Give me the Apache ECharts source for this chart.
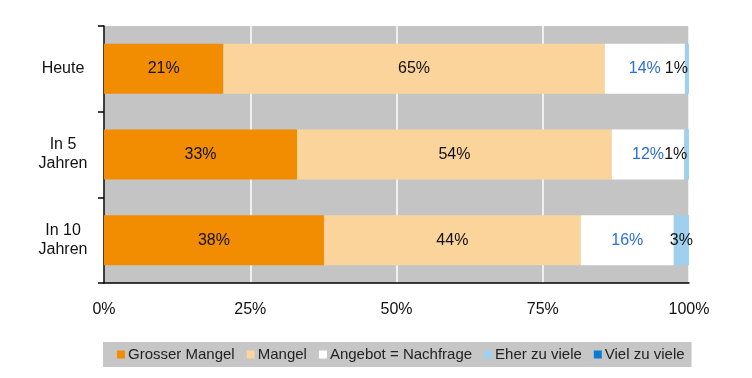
<!DOCTYPE html>
<html>
<head>
<meta charset="utf-8">
<script src="https://cdn.jsdelivr.net/npm/echarts@6/dist/echarts.min.js"></script>
<style>
  html, body { margin: 0; padding: 0; background: #fff; }
  #chart { width: 752px; height: 378px; }
</style>
</head>
<body>
<div id="chart"></div>
<script>
// Kategorien und Reihen
const categories = ['Heute', 'In 5\nJahren', 'In 10\nJahren']
const seriesNames = ['Grosser Mangel', 'Mangel', 'Angebot = Nachfrage', 'Eher zu viele', 'Viel zu viele']

// Anteile
const grosserMangel = [20.4, 33.0, 37.6]
const mangel = [65.2, 53.8, 43.9]
const angebot = [13.7, 12.4, 15.9]
const eherZuViele = [0.7, 0.8, 2.6]
const vielZuViele = [0, 0, 0]

// Beschriftungen wie im Bild
const grosserMangelLabels = ['21%', '33%', '38%']
const mangelLabels = ['65%', '54%', '44%']
const angebotLabels = ['14%', '12%', '16%']
const eherZuVieleLabels = ['1%', '1%', '3%']

const xTicks = [0, 25, 50, 75, 100]

const colors = ['#f28c00', '#fbd49c', '#ffffff', '#9fd0ee', '#0a7dd0']
const font = 'Liberation Sans, Arial, sans-serif'

function withLabels(values, labels, extra) {
  return values.map((v, i) => {
    const item = { value: v }
    if (labels) item.labelText = labels[i]
    if (extra && extra[i]) item.label = extra[i]
    return item
  })
}

const baseLabel = {
  show: true,
  fontFamily: font,
  fontSize: 16,
  color: '#111',
  formatter: (p) => p.data.labelText || ''
}

const chart = echarts.init(document.getElementById('chart'))

const option = {
  animation: false,
  color: colors,
  grid: {
    left: 104,
    right: 63,
    top: 26,
    bottom: 95,
    show: true,
    backgroundColor: '#c4c4c4',
    borderWidth: 0
  },
  legend: {
    left: 103,
    top: 342,
    width: 640,
    itemWidth: 8,
    itemHeight: 8,
    itemGap: 12,
    padding: [5, 7, 5, 14],
    backgroundColor: '#c6c6c6',
    icon: 'rect',
    textStyle: { fontFamily: font, fontSize: 15, color: '#222', padding: [0, 0, 0, -2] },
    data: seriesNames
  },
  xAxis: {
    type: 'value',
    min: 0,
    max: 100,
    interval: 25,
    axisLine: { show: true, lineStyle: { color: '#000', width: 1.5 } },
    axisTick: { show: false },
    splitLine: { show: true, lineStyle: { color: '#ffffff', width: 1.5 } },
    axisLabel: {
      margin: 19,
      fontFamily: font,
      fontSize: 16,
      color: '#111',
      formatter: (v) => (xTicks.includes(v) ? v + '%' : '')
    }
  },
  yAxis: {
    type: 'category',
    inverse: true,
    data: categories,
    axisLine: { show: true, lineStyle: { color: '#000', width: 1.5 } },
    axisTick: { show: true, length: 6, lineStyle: { color: '#000', width: 1.5 } },
    splitLine: { show: false },
    axisLabel: {
      margin: 41,
      align: 'center',
      fontFamily: font,
      fontSize: 16,
      lineHeight: 19,
      color: '#111'
    }
  },
  series: [
    {
      name: seriesNames[0],
      type: 'bar',
      stack: 'total',
      barWidth: 50,
      label: Object.assign({}, baseLabel, { position: 'inside' }),
      data: withLabels(grosserMangel, grosserMangelLabels)
    },
    {
      name: seriesNames[1],
      type: 'bar',
      stack: 'total',
      barWidth: 50,
      label: Object.assign({}, baseLabel, { position: 'inside' }),
      data: withLabels(mangel, mangelLabels)
    },
    {
      name: seriesNames[2],
      type: 'bar',
      stack: 'total',
      barWidth: 50,
      label: Object.assign({}, baseLabel, { position: 'inside', color: '#2a6fd6' }),
      data: withLabels(angebot, angebotLabels)
    },
    {
      name: seriesNames[3],
      type: 'bar',
      stack: 'total',
      barWidth: 50,
      label: Object.assign({}, baseLabel, { position: 'left', distance: -3 }),
      data: withLabels(eherZuViele, eherZuVieleLabels, [null, null, { position: 'inside' }])
    },
    {
      name: seriesNames[4],
      type: 'bar',
      stack: 'total',
      barWidth: 50,
      data: vielZuViele
    }
  ]
}

chart.setOption(option)
</script>
</body>
</html>
